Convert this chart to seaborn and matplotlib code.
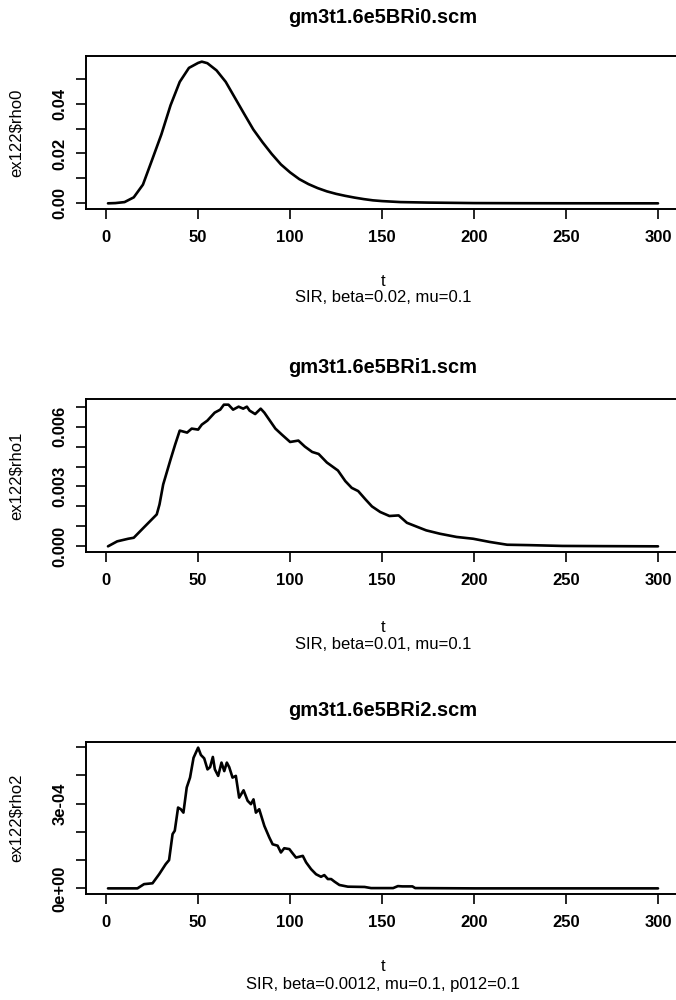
import numpy as np
import pandas as pd
import matplotlib
matplotlib.use("Agg")
import matplotlib.pyplot as plt
import matplotlib.ticker as mticker
from matplotlib.transforms import ScaledTranslation
import seaborn as sns

# ---------------- data ----------------
titles = ["gm3t1.6e5BRi0.scm", "gm3t1.6e5BRi1.scm", "gm3t1.6e5BRi2.scm"]
ylabels = ["ex122$rho0", "ex122$rho1", "ex122$rho2"]
xlabel = "t"
subtitles = ["SIR, beta=0.02, mu=0.1",
             "SIR, beta=0.01, mu=0.1",
             "SIR, beta=0.0012, mu=0.1, p012=0.1"]

xticks = [0, 50, 100, 150, 200, 250, 300]

t0 = [1, 5, 10, 15, 20, 25, 30, 35, 40, 45, 50, 52, 55, 60, 65, 70, 75, 80,
      85, 90, 95, 100, 105, 110, 115, 120, 125, 130, 135, 140, 145, 150, 160,
      175, 200, 225, 250, 275, 300]
rho0 = [0.0, 0.0001, 0.0005, 0.0024, 0.0075, 0.0175, 0.0276, 0.0393, 0.0487,
        0.0543, 0.0563, 0.0568, 0.0562, 0.0533, 0.0487, 0.0423, 0.0359, 0.0296,
        0.0245, 0.0198, 0.0156, 0.0124, 0.0097, 0.0077, 0.0061, 0.0048, 0.0038,
        0.0030, 0.0023, 0.0017, 0.0012, 0.0009, 0.0005, 0.0003, 0.0001,
        0.00005, 0.00002, 0.00001, 0.0]

t1 = [1, 6, 12, 15, 20, 27.5, 29, 31, 35, 37.5, 40, 42, 44, 46.5, 50, 52, 55,
      59, 62, 64, 66.5, 69, 72, 74.5, 76.5, 78, 81, 84, 86, 89, 92, 95.5, 100,
      104.5, 108, 112, 115.5, 120, 126, 130, 133.5, 137, 141, 144.5, 149, 154,
      159, 163.5, 169, 174, 181.5, 190.5, 199.5, 208.5, 218, 230, 248, 270, 300]
rho1 = [0.0, 0.00025, 0.00038, 0.00043, 0.0009, 0.0016, 0.0021, 0.0031,
        0.00435, 0.0051, 0.0058, 0.00575, 0.0057, 0.0059, 0.00585, 0.0061,
        0.0063, 0.0067, 0.00685, 0.0071, 0.0071, 0.00685, 0.0070, 0.0069,
        0.0070, 0.0068, 0.00663, 0.0069, 0.0067, 0.0063, 0.0059, 0.0056,
        0.00523, 0.0053, 0.0050, 0.00473, 0.00463, 0.0042, 0.0038, 0.00327,
        0.00293, 0.00277, 0.00235, 0.0020, 0.00172, 0.00152, 0.00155, 0.00118,
        0.00098, 0.0008, 0.00063, 0.00047, 0.00038, 0.00022, 0.00008, 0.00006,
        0.00002, 0.00001, 0.0]

t2 = [1, 17, 20.6, 25.2, 28.8, 32.4, 34.2, 36.1, 37.3, 39.1, 40.6, 42, 43.8,
      45.6, 47.5, 50, 51.5, 53.3, 55.1, 56.5, 58, 59.1, 60.9, 62.7, 64.2, 65.6,
      66.9, 68.7, 70.5, 72.3, 74.7, 76.9, 78.7, 80.1, 81.4, 83.2, 86, 88.7,
      90.5, 93.2, 95, 96.8, 99.6, 101, 103.2, 106.9, 108.7, 111.4, 114.1,
      116.8, 118.6, 120.5, 122.3, 124.1, 126.8, 131.4, 140.5, 144, 156, 158.6,
      161, 166.5, 168, 200, 250, 300]
rho2 = [0.0, 0.0, 0.15e-4, 0.18e-4, 0.5e-4, 0.86e-4, 1.0e-4, 1.92e-4, 2.04e-4,
        2.86e-4, 2.8e-4, 2.68e-4, 3.57e-4, 3.92e-4, 4.62e-4, 4.98e-4, 4.72e-4,
        4.6e-4, 4.21e-4, 4.29e-4, 4.65e-4, 4.21e-4, 3.98e-4, 4.45e-4, 4.15e-4,
        4.45e-4, 4.29e-4, 3.92e-4, 3.98e-4, 3.21e-4, 3.47e-4, 3.1e-4, 2.98e-4,
        3.15e-4, 2.68e-4, 2.8e-4, 2.21e-4, 1.8e-4, 1.56e-4, 1.51e-4, 1.27e-4,
        1.42e-4, 1.39e-4, 1.27e-4, 1.09e-4, 1.15e-4, 0.92e-4, 0.68e-4, 0.5e-4,
        0.41e-4, 0.47e-4, 0.33e-4, 0.33e-4, 0.24e-4, 0.12e-4, 0.06e-4, 0.05e-4,
        0.01e-4, 0.01e-4, 0.08e-4, 0.07e-4, 0.07e-4, 0.01e-4, 0.0, 0.0, 0.0]

yticks = [[0.0, 0.01, 0.02, 0.03, 0.04, 0.05],
          [0.0, 0.001, 0.002, 0.003, 0.004, 0.005, 0.006, 0.007],
          [0.0, 1e-4, 2e-4, 3e-4, 4e-4, 5e-4]]
ytick_labels = [["0.00", "", "0.02", "", "0.04", ""],
                ["0.000", "", "", "0.003", "", "", "0.006", ""],
                ["0e+00", "", "", "3e-04", "", ""]]

series = [(t0, rho0), (t1, rho1), (t2, rho2)]

# ---------------- style ----------------
sns.set_theme(style="ticks")
plt.rcParams["font.family"] = ["Liberation Sans", "DejaVu Sans"]
plt.rcParams["axes.linewidth"] = 1.4

W, H = 676, 1000
fig = plt.figure(figsize=(W / 100, H / 100), dpi=100)

# axes boxes in pixels (top, bottom); left/right shared
boxes = [(56, 209), (399, 552), (742, 894)]
left_px, right_px = 86, 680
# text offsets in pixels: title above top, xlabel and subtitle below bottom
title_off = [33, 26, 26]
xlab_off = [77, 80, 77]
sub_off = [93, 97, 95]

for i, ((top, bot), (tt, rr)) in enumerate(zip(boxes, series)):
    ax = fig.add_axes([left_px / W, 1 - bot / H, (right_px - left_px) / W,
                       (bot - top) / H])
    df = pd.DataFrame({"t": tt, "rho": rr})
    sns.lineplot(data=df, x="t", y="rho", ax=ax, color="black", linewidth=1.9)

    # R style 4% padding
    xr = max(tt) - min(tt)
    ax.set_xlim(min(tt) - 0.04 * xr, max(tt) + 0.04 * xr)
    yr = max(rr) - min(rr)
    ax.set_ylim(min(rr) - 0.04 * yr, max(rr) + 0.04 * yr)

    ax.xaxis.set_major_locator(mticker.FixedLocator(xticks))
    ax.xaxis.set_major_formatter(mticker.FixedFormatter([str(v) for v in xticks]))
    ax.yaxis.set_major_locator(mticker.FixedLocator(yticks[i]))
    ax.yaxis.set_major_formatter(mticker.FixedFormatter(ytick_labels[i]))

    for s in ax.spines.values():
        s.set_visible(True)
        s.set_color("black")
        s.set_linewidth(1.4)

    ax.tick_params(axis="both", direction="out", length=7.2, width=1.2,
                   colors="black", labelsize=12)
    ax.tick_params(axis="x", pad=8)
    ax.tick_params(axis="y", pad=6, labelrotation=90)
    for lab in ax.get_yticklabels():
        lab.set_va("center")
        lab.set_fontweight("bold")
    for lab in ax.get_xticklabels():
        lab.set_fontweight("bold")

    ax.set_xlabel("")
    ax.set_ylabel(ylabels[i], fontsize=12, va="center", color="black")
    ax.yaxis.set_label_coords(-(left_px - 16) / (right_px - left_px), 0.5)

    def off(dy):
        return ax.transAxes + ScaledTranslation(0, dy / 100, fig.dpi_scale_trans)

    ax.text(0.5, 1, titles[i], transform=off(title_off[i]), ha="center",
            va="baseline", fontsize=14.4, fontweight="bold", color="black")
    ax.text(0.5, 0, xlabel, transform=off(-xlab_off[i]), ha="center",
            va="baseline", fontsize=12, color="black")
    ax.text(0.5, 0, subtitles[i], transform=off(-sub_off[i]), ha="center",
            va="baseline", fontsize=12, color="black")

fig.savefig("out.png", dpi=100, facecolor="white")
